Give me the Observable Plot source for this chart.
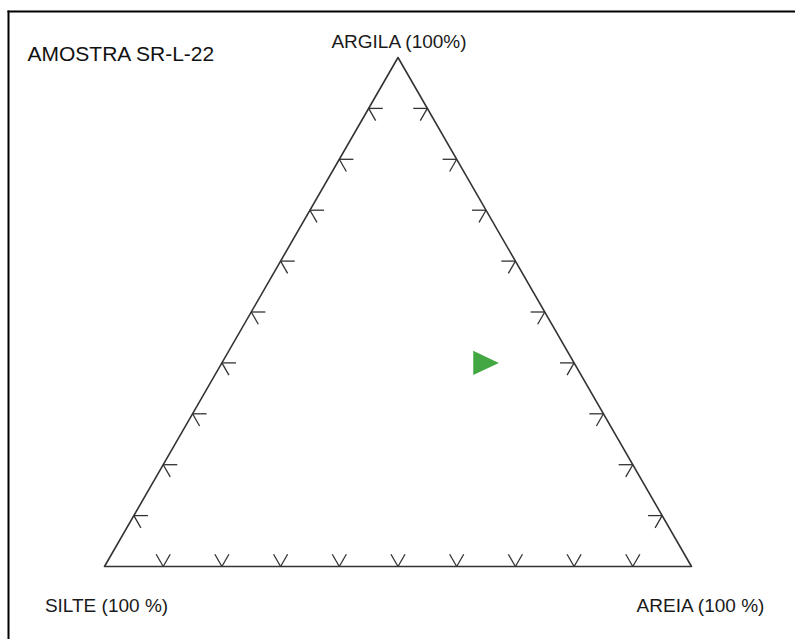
<!DOCTYPE html>
<html>
<head>
<meta charset="utf-8">
<script src="https://cdn.jsdelivr.net/npm/d3@7"></script>
<script src="https://cdn.jsdelivr.net/npm/@observablehq/plot@0.6"></script>
<style>
  html, body { margin: 0; padding: 0; background: #fff; }
  svg { display: block; }
</style>
</head>
<body>
<div id="chart"></div>
<script>
// ---- Data ----
const title = "AMOSTRA SR-L-22";
const vertexLabels = ["ARGILA (100%)", "SILTE (100 %)", "AREIA (100 %)"];
const sampleArgila = [40];
const sampleAreia = [45];
const sampleSilte = [15];
const tickPercents = [10, 20, 30, 40, 50, 60, 70, 80, 90];

// ternary (argila, areia, silte in %) -> cartesian (x along base, y up)
const S3 = Math.sqrt(3) / 2;
function tern(argila, areia) {
  return { x: (areia + argila / 2) / 100, y: (argila / 100) * S3 };
}

// triangle frame: silte vertex, areia vertex, argila vertex
const verts = [tern(0, 0), tern(0, 100), tern(100, 0), tern(0, 0)];

// tick pairs: each tick has two short arms pointing inward, parallel to the other edges
const L = 0.024;
const c60 = Math.cos(Math.PI / 3), s60 = Math.sin(Math.PI / 3);
const dirs = {
  up60: { dx: c60, dy: s60 },
  up120: { dx: -c60, dy: s60 },
  right: { dx: 1, dy: 0 },
  left: { dx: -1, dy: 0 },
  down60r: { dx: c60, dy: -s60 },
  down60l: { dx: -c60, dy: -s60 }
};
const ticks = [];
for (const p of tickPercents) {
  const b = tern(0, p);          // bottom edge (argila = 0)
  for (const d of [dirs.up60, dirs.up120]) ticks.push({ x1: b.x, y1: b.y, x2: b.x + L * d.dx, y2: b.y + L * d.dy });
  const l = tern(p, 0);          // left edge (areia = 0)
  for (const d of [dirs.right, dirs.down60r]) ticks.push({ x1: l.x, y1: l.y, x2: l.x + L * d.dx, y2: l.y + L * d.dy });
  const r = tern(p, 100 - p);    // right edge (silte = 0)
  for (const d of [dirs.left, dirs.down60l]) ticks.push({ x1: r.x, y1: r.y, x2: r.x + L * d.dx, y2: r.y + L * d.dy });
}

const samples = sampleArgila.map((a, i) => ({ ...tern(a, sampleAreia[i]), silte: sampleSilte[i] }));

const labels = [
  { ...tern(100, 0), text: vertexLabels[0], dx: 1, dy: -10 },
  { ...tern(0, 0), text: vertexLabels[1], dx: 2, dy: 45 },
  { ...tern(0, 100), text: vertexLabels[2], dx: 9, dy: 45 }
];

// right-pointing triangle symbol
const rightTriangle = {
  draw(context, size) {
    const r = Math.sqrt(size / Math.PI);
    context.moveTo(-r, -0.94 * r);
    context.lineTo(r, 0);
    context.lineTo(-r, 0.94 * r);
    context.closePath();
  }
};

const chart = Plot.plot({
  width: 795,
  height: 639,
  marginLeft: 8,
  marginTop: 11,
  marginRight: 0,
  marginBottom: 0,
  style: { fontFamily: "'Liberation Sans', Arial, sans-serif", background: "#fff" },
  x: { domain: [0, 1], range: [104, 691], axis: null },
  y: { domain: [0, S3], range: [566, 57], axis: null },
  marks: [
    Plot.frame({ anchor: "top", stroke: "#000", strokeWidth: 2 }),
    Plot.frame({ anchor: "left", stroke: "#000", strokeWidth: 2 }),
    Plot.line(verts, { x: "x", y: "y", stroke: "#333", strokeWidth: 1.6 }),
    Plot.link(ticks, { x1: "x1", y1: "y1", x2: "x2", y2: "y2", stroke: "#333", strokeWidth: 1.3 }),
    Plot.dot(samples, { x: "x", y: "y", symbol: rightTriangle, r: 12.8, fill: "#43a843", stroke: "none" }),
    ...labels.map(d => Plot.text([d], { x: "x", y: "y", text: "text", dx: d.dx, dy: d.dy, lineAnchor: "bottom", textAnchor: "middle", fontSize: 19, fill: "#1a1a1a" })),
    Plot.text([title], { frameAnchor: "top-left", text: d => d, dx: 19, dy: 49, lineAnchor: "bottom", textAnchor: "start", fontSize: 21, fill: "#111" })
  ]
});
document.getElementById("chart").appendChild(chart);
</script>
</body>
</html>
